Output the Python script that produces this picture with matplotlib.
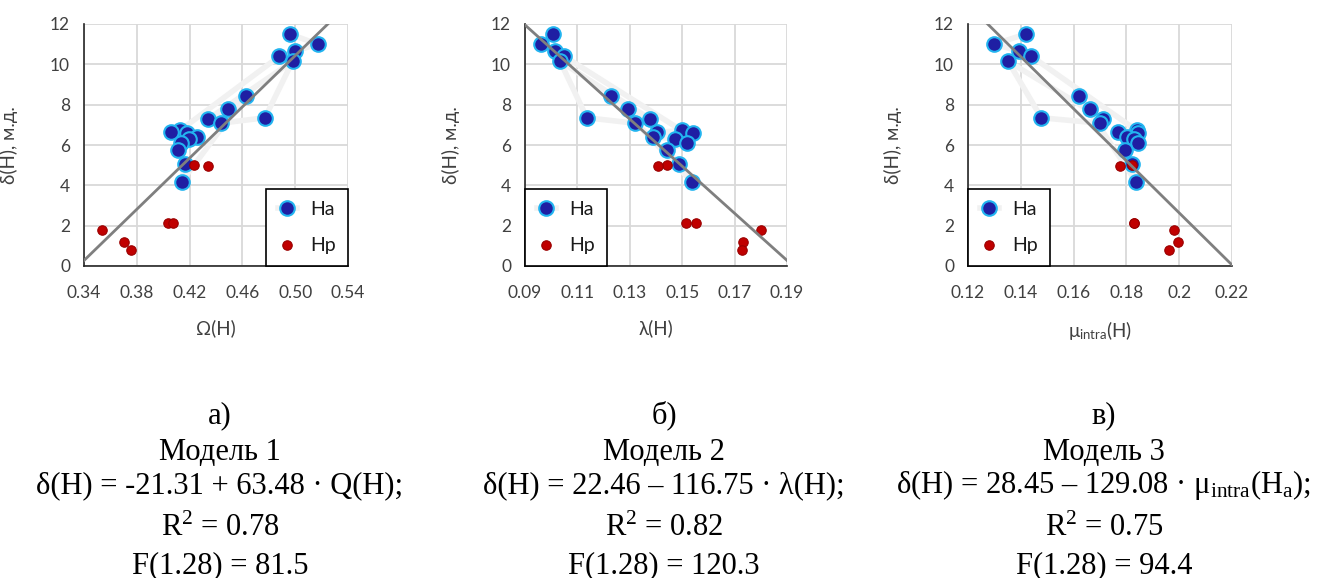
import matplotlib
matplotlib.use("Agg")
import matplotlib.pyplot as plt
import numpy as np

plt.rcParams['mathtext.fontset'] = 'custom'
plt.rcParams['mathtext.rm'] = 'Liberation Serif'
plt.rcParams['mathtext.it'] = 'Liberation Serif:italic'

# ---------------- data ----------------
# delta(H) of Ha atoms (shared across panels)
y_ha = [11.5, 11.0, 10.65, 10.4, 6.72, 6.63, 6.6, 6.41, 6.3, 6.1, 5.75, 5.05, 4.18,
        8.45, 7.78, 7.29, 10.15, 7.35, 7.08]
# descriptors of Ha atoms
omega_ha = [0.496, 0.517, 0.4996, 0.488, 0.4127, 0.4057, 0.4178, 0.4254, 0.4198, 0.4133,
            0.4115, 0.4165, 0.4140, 0.4626, 0.4493, 0.4342, 0.498, 0.4771, 0.4435]
lambda_ha = [0.1008, 0.0960, 0.1015, 0.1049, 0.1498, 0.1403, 0.1542, 0.1390, 0.1473, 0.1517,
             0.1441, 0.1489, 0.1536, 0.1227, 0.1292, 0.1377, 0.1034, 0.1136, 0.1320]
mu_ha = [0.1419, 0.1299, 0.1394, 0.1440, 0.1839, 0.1769, 0.1845, 0.1801, 0.1830, 0.1845,
         0.1795, 0.1820, 0.1836, 0.1620, 0.1662, 0.1713, 0.1352, 0.1478, 0.1700]

# delta(H) of Hp atoms
y_hp = [5.03, 4.95, 2.12, 2.12, 1.8, 1.17, 0.77]
omega_hp = [0.4236, 0.4337, 0.4039, 0.4072, 0.3534, 0.3703, 0.3754]
lambda_hp = [0.1441, 0.1406, 0.1515, 0.1552, 0.1802, 0.1732, 0.1728]
mu_hp = [0.1823, 0.1776, 0.1827, 0.1827, 0.1982, 0.1995, 0.1960]

# regression models: intercept, slope
models = [(-21.31, 63.48), (22.46, -116.75), (28.45, -129.08)]

xlims = [(0.34, 0.54), (0.09, 0.19), (0.12, 0.22)]
xticks = [[0.34, 0.38, 0.42, 0.46, 0.50, 0.54],
          [0.09, 0.11, 0.13, 0.15, 0.17, 0.19],
          [0.12, 0.14, 0.16, 0.18, 0.20, 0.22]]
xticklabels = [["0.34", "0.38", "0.42", "0.46", "0.50", "0.54"],
               ["0.09", "0.11", "0.13", "0.15", "0.17", "0.19"],
               ["0.12", "0.14", "0.16", "0.18", "0.2", "0.22"]]
yticks = [0, 2, 4, 6, 8, 10, 12]
xlabels = ["Ω(H)", "λ(H)", r"μ$_{\mathregular{intra}}$(H)"]
ylabel = "δ(H), м.д."
series_labels = ["Ha", "Hp"]

captions = [
    ["а)", "Модель 1", "δ(H) = -21.31 + 63.48 · Q(H);", r"R$^{2}$ = 0.78", "F(1.28) = 81.5"],
    ["б)", "Модель 2", "δ(H) = 22.46 – 116.75 · λ(H);", r"R$^{2}$ = 0.82", "F(1.28) = 120.3"],
    ["в)", "Модель 3", r"δ(H) = 28.45 – 129.08 · μ$_{\mathrm{intra}}$(H$_{\mathrm{a}}$);",
     r"R$^{2}$ = 0.75", "F(1.28) = 94.4"],
]

# ---------------- layout ----------------
W, H = 1329, 578
fig = plt.figure(figsize=(W / 100, H / 100), dpi=100)
fig.patch.set_facecolor('white')

axes_px = [(84, 348), (525, 787), (968, 1232)]
top_px, bot_px = 24, 266
caption_x = [220, 664, 1104]
caption_y = [423, 460, 493, 536, 573]
legend_loc = ['lower right', 'lower left', 'lower left']

sans = ['Lato', 'Open Sans', 'DejaVu Sans']
tick_color = '#404040'

xs_ha = [omega_ha, lambda_ha, mu_ha]
xs_hp = [omega_hp, lambda_hp, mu_hp]

for i in range(3):
    l, r = axes_px[i]
    ax = fig.add_axes([l / W, 1 - bot_px / H, (r - l) / W, (bot_px - top_px) / H])
    ax.set_xlim(*xlims[i])
    ax.set_ylim(0, 12)
    ax.set_xticks(xticks[i])
    ax.set_xticklabels(xticklabels[i])
    ax.set_yticks(yticks)
    ax.grid(True, color='#d9d9d9', lw=1.3, zorder=0)
    ax.set_axisbelow(True)
    for s in ['top', 'right']:
        ax.spines[s].set_visible(False)
    for s in ['left', 'bottom']:
        ax.spines[s].set_color('#262626')
        ax.spines[s].set_linewidth(1.2)
    ax.tick_params(length=0, labelsize=12.5, colors=tick_color)
    ax.tick_params(axis='x', pad=14)
    ax.tick_params(axis='y', pad=10)
    for lab in ax.get_xticklabels() + ax.get_yticklabels():
        lab.set_family(sans)

    # Ha series (faint connecting line + markers)
    ax.plot(xs_ha[i], y_ha, color='#f1f1f1', lw=4, marker='o', ms=10.5,
            mfc='#1f1fa3', mec='#22b4f0', mew=1.5, label=series_labels[0], zorder=3)
    # Hp series
    ax.plot(xs_hp[i], y_hp, ls='none', marker='o', ms=6.8,
            mfc='#c00000', mec='#9a0000', mew=0.8, label=series_labels[1], zorder=4)

    # regression line
    b0, b1 = models[i]
    xx = np.linspace(xlims[i][0], xlims[i][1], 200)
    ax.plot(xx, b0 + b1 * xx, color='#7f7f7f', lw=2.0, zorder=5, clip_on=True)

    ax.set_xlabel(xlabels[i], fontsize=13.5, color=tick_color, family=sans)
    ax.xaxis.set_label_coords(0.5, -0.22)
    ax.set_ylabel(ylabel, fontsize=13.5, color=tick_color, family=sans)
    ax.yaxis.set_label_coords(-0.25, 0.5)

    leg = ax.legend(loc=legend_loc[i], borderaxespad=0, fancybox=False,
                    framealpha=1, edgecolor='black',
                    handlelength=1.0, handletextpad=0.7, labelspacing=1.0,
                    borderpad=0.6, prop={'family': sans, 'size': 14})
    leg.get_frame().set_linewidth(1.2)
    leg.set_zorder(10)
    for t in leg.get_texts():
        t.set_color('#1a1a1a')

    for j, txt in enumerate(captions[i]):
        fig.text(caption_x[i] / W, 1 - caption_y[j] / H, txt, ha='center', va='baseline',
                 fontsize=22, family='Liberation Serif', color='black')

fig.savefig('out.png', dpi=100, facecolor='white')
